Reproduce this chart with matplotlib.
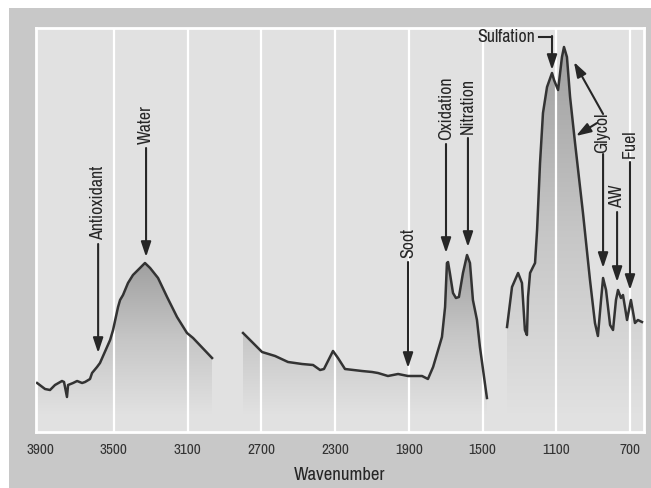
import numpy as np
import matplotlib
matplotlib.use("Agg")
import matplotlib.pyplot as plt
from matplotlib import font_manager
from matplotlib.patches import Polygon, Rectangle
from matplotlib.colors import LinearSegmentedColormap

# ---- data (wavenumber, relative absorbance) ----
wn1 = [3916, 3873, 3846, 3819, 3781, 3770, 3754, 3748, 3721, 3699, 3672, 3656, 3629, 3618,
       3591, 3575, 3520, 3504, 3477, 3466, 3450, 3423, 3396, 3358, 3331, 3303, 3260, 3211,
       3157, 3103, 3070, 2967]
ab1 = [49, 43, 42, 47, 51, 50, 35, 47, 49, 51, 49, 50, 53, 59,
       65, 69, 92, 102, 125, 132, 137, 149, 157, 164, 169, 164, 154, 135,
       115, 99, 94, 74]

wn2 = [2799, 2750, 2696, 2625, 2555, 2479, 2419, 2381, 2360, 2311, 2284, 2246, 2154, 2099,
       2067, 2013, 1958, 1904, 1828, 1796, 1768, 1720, 1703, 1693, 1687, 1677, 1660, 1644,
       1628, 1606, 1584, 1568, 1552, 1530, 1514, 1476]
ab2 = [99, 90, 80, 76, 70, 68, 67, 62, 63, 81, 74, 63, 61, 60,
       59, 56, 58, 56, 56, 53, 65, 95, 125, 169, 170, 159, 139, 134,
       135, 159, 177, 169, 132, 112, 85, 34]

wn3 = [1367, 1340, 1307, 1286, 1270, 1259, 1253, 1242, 1226, 1215, 1204, 1188, 1172, 1150,
       1123, 1112, 1090, 1069, 1058, 1042, 1025, 998, 955, 917, 890, 874, 857, 846,
       830, 808, 792, 776, 765, 749, 738, 716, 695, 673, 657, 635]
ab3 = [105, 145, 159, 149, 102, 97, 135, 159, 165, 169, 202, 269, 319, 345,
       359, 352, 342, 375, 385, 375, 335, 289, 219, 152, 109, 96, 132, 154,
       142, 107, 102, 132, 142, 134, 137, 112, 132, 109, 112, 110]

xticks = [3900, 3500, 3100, 2700, 2300, 1900, 1500, 1100, 700]

# vertical labelled arrows: label, wavenumber, arrow start, arrow tip
v_labels = ["Antioxidant", "Water", "Soot", "Oxidation", "Nitration", "AW", "Fuel"]
v_wn = [3585, 3325, 1904, 1698, 1579, 770, 700]
v_start = [188, 284, 170, 288, 294, 220, 270]
v_tip = [79, 175, 64, 179, 185, 150, 142]

BG_OUT = "#c8c8c8"
BG_AX = "#e1e1e1"
LINE = "#333333"
ARROW = "#262626"

# pick a condensed sans font if one is installed
names = sorted({f.name for f in font_manager.fontManager.ttflist})
narrow = [n for n in names if "Narrow" in n or "Condensed" in n]
FAM = [narrow[0], "DejaVu Sans"] if narrow else ["DejaVu Sans"]
STRETCH = "normal" if narrow else "condensed"

fig = plt.figure(figsize=(6.51, 4.88), dpi=100)
fig.patch.set_facecolor("white")
fig.patches.append(Rectangle((9 / 651, 0), 1, 1 - 8 / 488, transform=fig.transFigure,
                             facecolor=BG_OUT, edgecolor="none", zorder=-10))

ax = fig.add_axes([36 / 651, 1 - 432 / 488, (644 - 36) / 651, (432 - 28) / 488])
ax.set_zorder(1)
ax.set_facecolor(BG_AX)

cmap = LinearSegmentedColormap.from_list("g", [BG_AX, "#c6c6c6", "#a0a0a0"])

def grad_fill(x, y, base=18):
    verts = [(x[0], base)] + list(zip(x, y)) + [(x[-1], base)]
    poly = Polygon(verts, closed=True, facecolor="none", edgecolor="none")
    ax.add_patch(poly)
    grad = np.linspace(0, 1, 256).reshape(-1, 1)
    im = ax.imshow(grad, extent=[x[-1], x[0], base, max(y)], origin="lower",
                   cmap=cmap, aspect="auto", zorder=1, interpolation="bilinear")
    im.set_clip_path(poly)

for x, y in [(wn1, ab1), (wn2, ab2), (wn3, ab3)]:
    grad_fill(x, y)

for t in xticks[1:]:
    ax.axvline(t, color="white", lw=1.6, zorder=2)

for x, y in [(wn1, ab1), (wn2, ab2), (wn3, ab3)]:
    ax.plot(x, y, color=LINE, lw=1.8, zorder=3, solid_joinstyle="round")

font = dict(family=FAM, stretch=STRETCH, color="#262626")
ap = dict(arrowstyle="-|>,head_length=0.9,head_width=0.3", lw=1.5, color=ARROW,
          shrinkA=0, shrinkB=0, mutation_scale=10)

FS = 12.8
for lab, w, s, t in zip(v_labels, v_wn, v_start, v_tip):
    ax.annotate("", xy=(w, t), xytext=(w, s), arrowprops=ap, zorder=4)
    ax.text(w, s + 4, lab, rotation=90, ha="center", va="bottom", fontsize=FS, zorder=4, **font)

# Sulfation (horizontal label with bent arrow)
ax.text(1215, 395, "Sulfation", ha="right", va="center", fontsize=FS, zorder=4, **font)
ax.plot([1194, 1123], [395, 395], color=ARROW, lw=1.5, zorder=4)
ax.annotate("", xy=(1123, 362), xytext=(1123, 396), arrowprops=ap, zorder=4)

# Glycol (three arrows)
ax.text(852, 279, "Glycol", rotation=90, ha="center", va="bottom", fontsize=FS, zorder=4, **font)
ax.annotate("", xy=(1004, 370), xytext=(846, 318), arrowprops=ap, zorder=4)
ax.annotate("", xy=(993, 296), xytext=(879, 309), arrowprops=ap, zorder=4)
ax.annotate("", xy=(846, 164), xytext=(846, 278), arrowprops=ap, zorder=4)

ax.set_xlim(3922, 624)
ax.set_ylim(0, 404)
ax.set_xticks(xticks)
ax.set_xticklabels([str(v) for v in xticks])
ax.set_yticks([])
ax.tick_params(axis="x", length=0, pad=8, labelsize=11, labelcolor="#333333")
for lbl in ax.get_xticklabels():
    lbl.set_family(FAM)
    lbl.set_stretch(STRETCH)
for sp in ax.spines.values():
    sp.set_color("white")
    sp.set_linewidth(2)
ax.set_xlabel("Wavenumber", fontsize=13.5, color="#262626", labelpad=7,
              family=FAM, stretch=STRETCH)

fig.savefig("out.png", dpi=100, facecolor=fig.get_facecolor())
